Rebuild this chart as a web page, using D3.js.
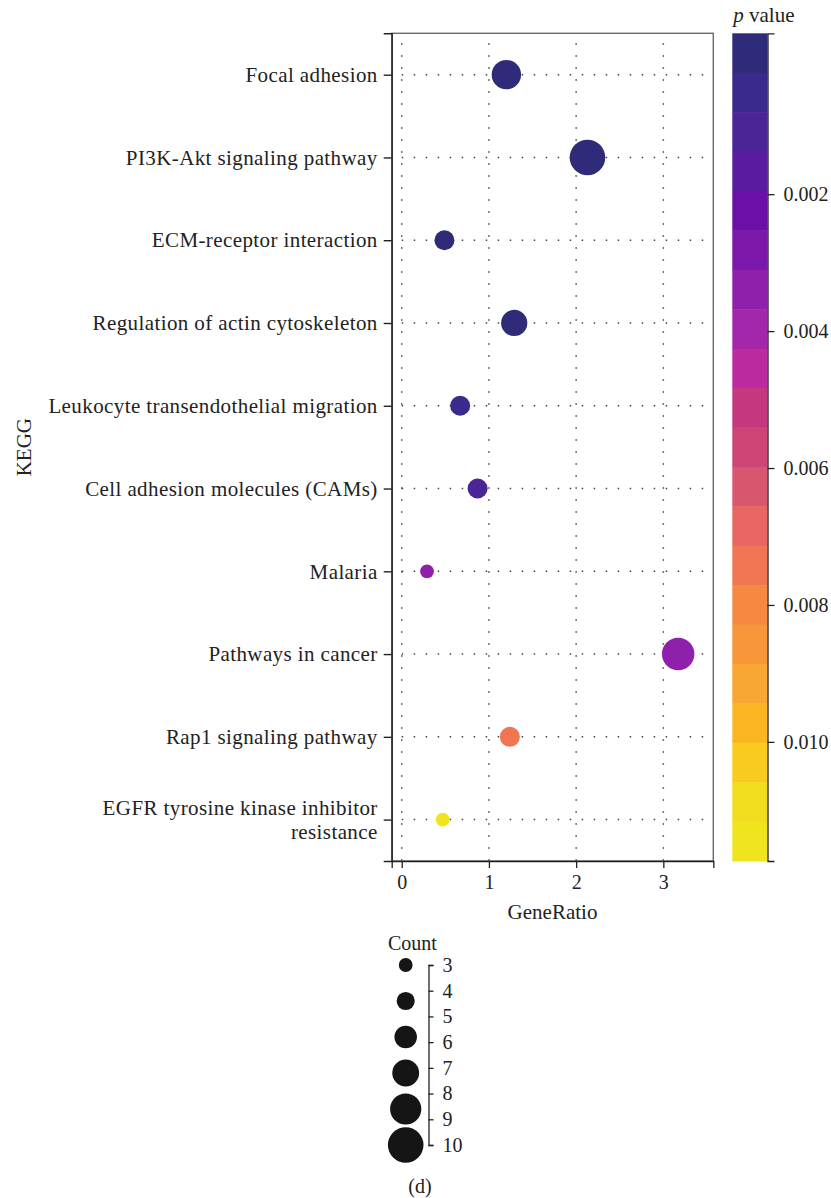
<!DOCTYPE html>
<html>
<head>
<meta charset="utf-8">
<script src="https://cdn.jsdelivr.net/npm/d3@7"></script>
<style>
  html, body { margin: 0; padding: 0; background: #fff; }
  text { font-family: "Liberation Serif", "Times New Roman", serif; fill: #222; }
</style>
</head>
<body>
<script>
// KEGG enrichment of the gene set
const pathways = [
  "Focal adhesion",
  "PI3K-Akt signaling pathway",
  "ECM-receptor interaction",
  "Regulation of actin cytoskeleton",
  "Leukocyte transendothelial migration",
  "Cell adhesion molecules (CAMs)",
  "Malaria",
  "Pathways in cancer",
  "Rap1 signaling pathway",
  "EGFR tyrosine kinase inhibitor resistance"
];
const geneRatio = [1.20, 2.13, 0.49, 1.29, 0.67, 0.87, 0.29, 3.17, 1.24, 0.47];
const geneCount = [8, 10, 5, 7, 5, 5, 3, 9, 5, 3];
const pValue    = [0.0001, 0.00005, 0.00015, 0.0002, 0.0004, 0.0010, 0.0033, 0.0035, 0.0074, 0.0117];

// axis ticks and legend keys
const ratioTicks = [0, 1, 2, 3];
const ratioExtent = [-0.115, 3.573];
const pTicks = [0.002, 0.004, 0.006, 0.008, 0.010];
const pLimits = [-0.00035, 0.01174];
const countExtent = [3, 10];
const countTicks = [3, 4, 5, 6, 7, 8, 9, 10];
const countKeys = [3, 4.4, 5.8, 7.2, 8.6, 10];

// stepped palette of the p value colour bar, smallest p first
const pColors = [
  "#2f2b78", "#3a2a8e", "#4b2496", "#5a1ba0", "#6c0fa8", "#7b17aa", "#8f20ac",
  "#a327aa", "#bb2a9f", "#c5377f", "#cc4576", "#d8566e", "#e96562", "#ef7553",
  "#f58842", "#f7963a", "#f8a732", "#fbb520", "#f9cb1e", "#f2dc1e", "#f0e41f"
];

const W = 831, H = 1198;
const panel = { left: 391.7, right: 713.3, top: 33.3, bottom: 861 };

const svg = d3.select("body").append("svg")
  .attr("width", W).attr("height", H);

const x = d3.scaleLinear().domain(ratioExtent).range([panel.left, panel.right]);
const y = d3.scalePoint().domain(pathways).range([panel.top, panel.bottom]).padding(0.5);
const r = d3.scaleLinear().domain(countExtent).range([6.9, 17.8]);
const color = d3.scaleQuantize().domain(pLimits).range(pColors);

const rows = pathways.map((name, i) => ({
  name, ratio: geneRatio[i], count: geneCount[i], p: pValue[i]
}));

// dotted guide lines
const grid = svg.append("g")
  .attr("stroke", "#444").attr("stroke-width", 1.5)
  .attr("stroke-dasharray", "1.5,10.5").attr("fill", "none");
grid.selectAll("line.v").data(ratioTicks).join("line")
  .attr("class", "v")
  .attr("x1", d => x(d)).attr("x2", d => x(d))
  .attr("y1", panel.top + 10).attr("y2", panel.bottom);
grid.selectAll("line.h").data(pathways).join("line")
  .attr("class", "h")
  .attr("x1", panel.left + 10).attr("x2", panel.right - 6)
  .attr("y1", d => y(d)).attr("y2", d => y(d));

// panel frame
svg.append("rect")
  .attr("x", panel.left).attr("y", panel.top)
  .attr("width", panel.right - panel.left).attr("height", panel.bottom - panel.top)
  .attr("fill", "none").attr("stroke", "#6a6a6a").attr("stroke-width", 1.4);

// points
svg.append("g").selectAll("circle").data(rows).join("circle")
  .attr("cx", d => x(d.ratio))
  .attr("cy", d => y(d.name))
  .attr("r", d => r(d.count))
  .attr("fill", d => color(d.p));

// x axis
const xAxis = svg.append("g")
  .attr("transform", `translate(0,${panel.bottom})`)
  .call(d3.axisBottom(x).tickValues(ratioTicks).tickFormat(d3.format("d"))
    .tickSize(7).tickSizeOuter(7).tickPadding(7));
xAxis.selectAll("text").attr("font-size", 20).style("font-family", "Liberation Serif");
xAxis.selectAll("line, path").attr("stroke", "#222").attr("stroke-width", 1.3);

// y axis
const yAxis = svg.append("g")
  .attr("transform", `translate(${panel.left},0)`)
  .call(d3.axisLeft(y).tickSize(8).tickSizeOuter(8).tickPadding(6));
yAxis.selectAll("line, path").attr("stroke", "#222").attr("stroke-width", 1.4);
yAxis.selectAll("text")
  .attr("font-size", 21).style("font-family", "Liberation Serif")
  .style("letter-spacing", "0.4px")
  .each(function (d) {
    // wrap long names to lines of at most 40 characters
    const words = d.split(" ");
    const lines = [];
    let cur = "";
    words.forEach(w => {
      const next = cur ? cur + " " + w : w;
      if (next.length > 40 && cur) { lines.push(cur); cur = w; } else { cur = next; }
    });
    lines.push(cur);
    const t = d3.select(this).text(null);
    const lh = 1.15;
    lines.forEach((ln, i) => {
      t.append("tspan")
        .attr("x", -14)
        .attr("dy", i === 0 ? `${0.32 - (lines.length - 1) * lh / 2}em` : `${lh}em`)
        .text(ln);
    });
    t.attr("dy", null);
  });

// axis titles
svg.append("text")
  .attr("x", (panel.left + panel.right) / 2).attr("y", 919)
  .attr("text-anchor", "middle").attr("font-size", 21)
  .text("GeneRatio");
svg.append("text")
  .attr("transform", `translate(31,${(panel.top + panel.bottom) / 2}) rotate(-90)`)
  .attr("text-anchor", "middle").attr("font-size", 21)
  .text("KEGG");

// p value colour bar
const bar = { x: 732.3, w: 35.2 };
const pScale = d3.scaleLinear().domain(pLimits).range([panel.top, panel.bottom]);
const bandH = (panel.bottom - panel.top) / pColors.length;
svg.append("g").selectAll("rect").data(pColors).join("rect")
  .attr("x", bar.x).attr("width", bar.w)
  .attr("y", (d, i) => panel.top + i * bandH)
  .attr("height", bandH + 0.5)
  .attr("fill", d => d);
const pAxis = svg.append("g")
  .attr("transform", `translate(${bar.x + bar.w},0)`)
  .call(d3.axisRight(pScale).tickValues(pTicks).tickFormat(d3.format(".3f"))
    .tickSize(7).tickSizeOuter(7).tickPadding(9));
pAxis.selectAll("line, path").attr("stroke", "#222").attr("stroke-width", 1.3);
pAxis.selectAll("text").attr("font-size", 20).style("font-family", "Liberation Serif");

const pTitle = svg.append("text").attr("x", bar.x + 1).attr("y", 22).attr("font-size", 21);
pTitle.append("tspan").attr("font-style", "italic").text("p");
pTitle.append("tspan").text(" value");

// Count size legend
const keyX = 405.7;
const cScale = d3.scaleLinear().domain(countExtent).range([965, 1145]);
svg.append("text").attr("x", 388).attr("y", 950).attr("font-size", 20).text("Count");
svg.append("g").selectAll("circle").data(countKeys).join("circle")
  .attr("cx", keyX).attr("cy", d => cScale(d)).attr("r", d => r(d))
  .attr("fill", "#151515");
const cAxis = svg.append("g")
  .attr("transform", "translate(428.5,0)")
  .call(d3.axisRight(cScale).tickValues(countTicks).tickFormat(d3.format("d"))
    .tickSize(5).tickSizeOuter(5).tickPadding(9));
cAxis.selectAll("line, path").attr("stroke", "#222").attr("stroke-width", 1.3);
cAxis.selectAll("text").attr("font-size", 20).style("font-family", "Liberation Serif");

// panel caption
svg.append("text")
  .attr("x", 420).attr("y", 1193).attr("text-anchor", "middle").attr("font-size", 20)
  .text("(d)");
</script>
</body>
</html>
